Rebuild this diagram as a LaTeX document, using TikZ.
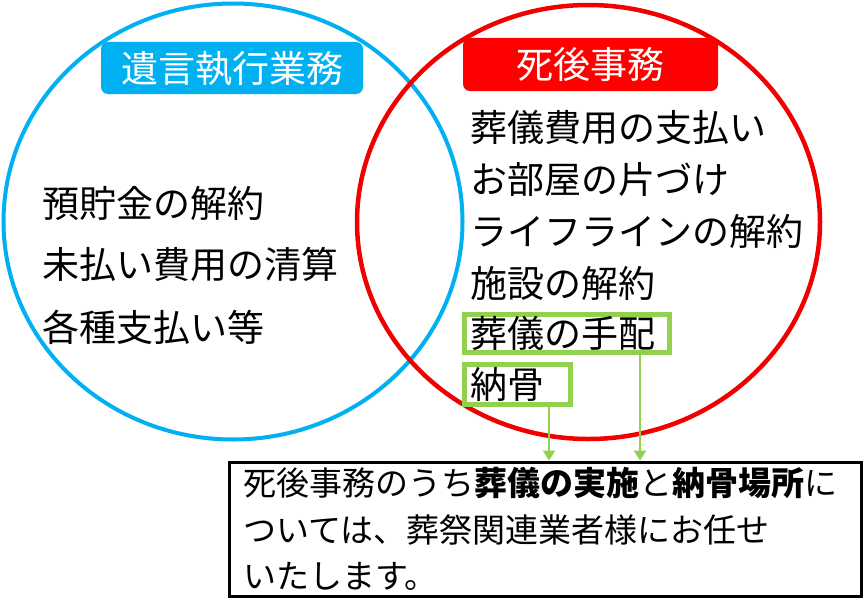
\documentclass[tikz,border=0pt]{standalone}
\usepackage{fontspec}
\setmainfont{Noto Sans CJK JP}
\usetikzlibrary{arrows.meta,shapes.geometric}
\definecolor{cblue}{RGB}{0,176,240}
\definecolor{cred}{RGB}{240,0,0}
\definecolor{cboxred}{RGB}{255,0,0}
\definecolor{cgreen}{RGB}{146,208,80}
\begin{document}
\begin{tikzpicture}[x=1pt,y=-1pt,
  ring/.style={ellipse, draw, inner sep=0pt},
  item/.style={anchor=west, inner sep=0pt, text height=32.56pt, text depth=4.44pt, font=\fontsize{37}{44}\selectfont},
  sumline/.style={anchor=west, inner sep=0pt, text height=29.04pt, text depth=3.96pt, font=\fontsize{33}{40}\selectfont},
  titlebox/.style={rounded corners=7pt, inner sep=0pt, text=white, text height=32.56pt, text depth=4.44pt, font=\fontsize{37}{44}\selectfont},
  gbox/.style={draw=cgreen, line width=5pt, inner ysep=0pt, text height=32.56pt, text depth=4.44pt, align=left, font=\fontsize{37}{44}\selectfont},
  garrow/.style={draw=cgreen, line width=2pt, -{Triangle[width=12pt,length=10pt]}},
  sumbox/.style={draw=black, line width=3pt, inner sep=0pt}
]
\useasboundingbox (0,0) rectangle (864,610);
\fill[white] (0,0) rectangle (864,610);

% circles
\node[ring, draw=cblue, line width=4pt, minimum width=459, minimum height=436] (will) at (233,221.5) {};
\node[ring, draw=cred, line width=4.5pt, minimum width=463, minimum height=434] (after) at (588.5,222) {};

% titles
\node[titlebox, fill=cblue, minimum width=262, minimum height=52] (ttlwill) at (232,68) {遺言執行業務};
\node[titlebox, fill=cboxred, minimum width=255, minimum height=53] (ttlafter) at (590.5,64.5) {死後事務};

% left items
\node[item] (l1) at (42,203) {預貯金の解約};
\node[item] (l2) at (42,264) {未払い費用の清算};
\node[item] (l3) at (42,327) {各種支払い等};

% right items
\node[item] (r1) at (470,127) {葬儀費用の支払い};
\node[item] (r2) at (470,179) {お部屋の片づけ};
\node[item] (r3) at (470,231) {ライフラインの解約};
\node[item] (r4) at (470,283) {施設の解約};

% green boxes
\node[gbox, inner xsep=5.5pt, text width=194, minimum height=38] (tehai) at (567,333.5) {葬儀の手配};
\node[gbox, inner xsep=5.5pt, text width=95, minimum height=40] (noko) at (517.5,384.5) {納骨};

% summary box
\node[sumbox, minimum width=631.5, minimum height=134] (sum) at (545.25,529) {};
\node[sumline] (s1) at (243,483) {死後事務のうち{\bfseries 葬儀の実施}と{\bfseries 納骨場所}に};
\node[sumline] (s2) at (243,530) {ついては、葬祭関連業者様にお任せ};
\node[sumline] (s3) at (243,576) {いたします。};

% arrows
\coordinate (a1) at ([xshift=31.5pt]noko.south);
\coordinate (a2) at ([xshift=73pt]tehai.south);
\draw[garrow] (a1) -- (a1 |- sum.north);
\draw[garrow] (a2) -- (a2 |- sum.north);
\end{tikzpicture}
\end{document}
